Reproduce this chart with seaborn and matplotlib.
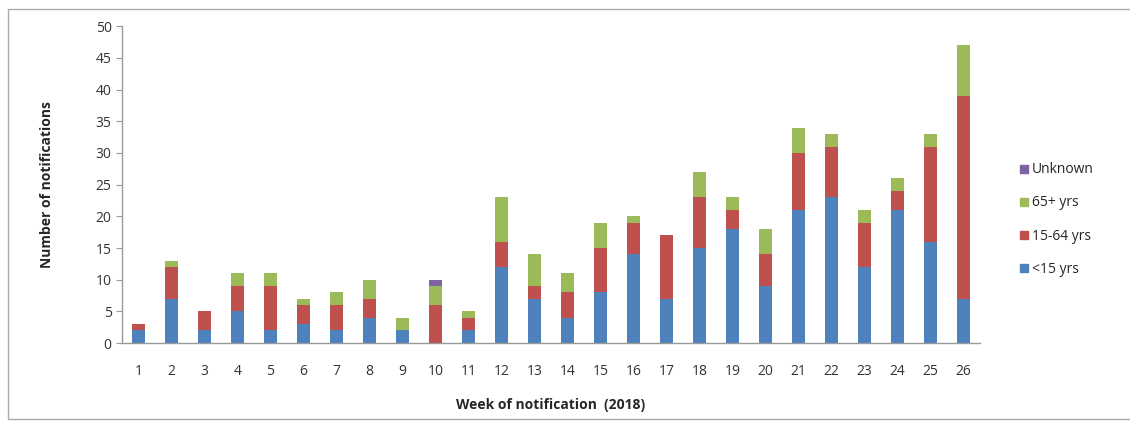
import numpy as np
import pandas as pd
import matplotlib
matplotlib.use("Agg")
import matplotlib.pyplot as plt
from matplotlib.patches import Rectangle
from matplotlib.lines import Line2D
import seaborn as sns

# ── data ──
weeks = [str(w) for w in range(1, 27)]
under15 = [2, 7, 2, 5, 2, 3, 2, 4, 2, 0, 2, 12, 7, 4, 8, 14, 7, 15, 18, 9, 21, 23, 12, 21, 16, 7]
age15_64 = [1, 5, 3, 4, 7, 3, 4, 3, 0, 6, 2, 4, 2, 4, 7, 5, 10, 8, 3, 5, 9, 8, 7, 3, 15, 32]
age65 = [0, 1, 0, 2, 2, 1, 2, 3, 2, 3, 1, 7, 5, 3, 4, 1, 0, 4, 2, 4, 4, 2, 2, 2, 2, 8]
unknown = [0, 0, 0, 0, 0, 0, 0, 0, 0, 1, 0, 0, 0, 0, 0, 0, 0, 0, 0, 0, 0, 0, 0, 0, 0, 0]

groups = ["<15 yrs", "15-64 yrs", "65+ yrs", "Unknown"]
colors = ["#4F81BD", "#C0504D", "#9BBB59", "#8064A2"]

df = pd.DataFrame({"week": weeks, "<15 yrs": under15, "15-64 yrs": age15_64,
                   "65+ yrs": age65, "Unknown": unknown})
cum = df[groups].cumsum(axis=1)
cum["week"] = df["week"]

sns.set_style("white")
plt.rcParams["font.family"] = ["Open Sans", "DejaVu Sans"]

fig = plt.figure(figsize=(11.3, 4.21), dpi=100)
ax = fig.add_axes([0.108, 0.185, 0.759, 0.753])

# stacked bars: draw the cumulative totals, tallest layer first
for g, c in reversed(list(zip(groups, colors))):
    sns.barplot(data=cum, x="week", y=g, order=weeks, color=c, width=0.4,
                saturation=1, ax=ax, linewidth=0)

ax.set_ylim(0, 50)
ax.set_xlim(-0.5, 25.5)
ax.set_yticks(range(0, 51, 5))
ax.set_xticks(range(26), weeks)
ax.set_xticks(np.arange(-0.5, 26, 1), minor=True)
ax.tick_params(axis="x", which="major", length=0, pad=15, labelsize=10, colors="#333333")
ax.tick_params(axis="x", which="minor", length=5, color="#999999", direction="out")
ax.tick_params(axis="y", length=4, color="#999999", direction="out", left=True,
               labelsize=10, colors="#333333")
for s in ["top", "right"]:
    ax.spines[s].set_visible(False)
for s in ["left", "bottom"]:
    ax.spines[s].set_color("#999999")
    ax.spines[s].set_linewidth(1)

ax.set_xlabel("Week of notification  (2018)", fontsize=10, fontweight="bold", labelpad=14)
ax.set_ylabel("Number of notifications", fontsize=10, fontweight="bold", labelpad=30)

handles = [Line2D([], [], marker="s", linestyle="", markersize=6, color=c)
           for c in reversed(colors)]
ax.legend(handles, list(reversed(groups)), loc="center left", bbox_to_anchor=(1.04, 0.39),
          frameon=False, fontsize=10, handlelength=0.6, handletextpad=0.3,
          labelspacing=1.3, borderaxespad=0)

fig.add_artist(Rectangle((0.007, 0.005), 1.0, 0.973, transform=fig.transFigure,
                         fill=False, edgecolor="#aaaaaa", linewidth=1))

fig.savefig("out.png", dpi=100)
